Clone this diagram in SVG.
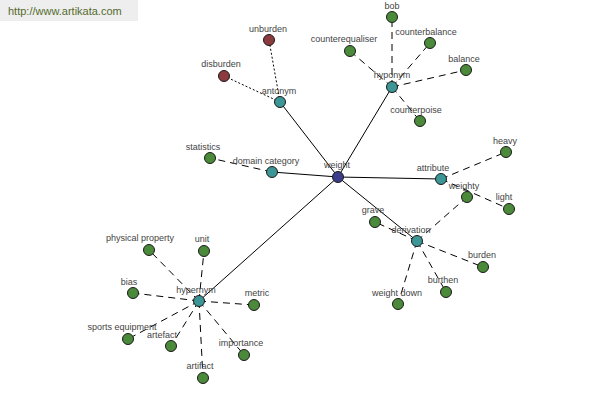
<svg xmlns="http://www.w3.org/2000/svg" width="600" height="400" viewBox="0 0 600 400">
<style>
text{font-family:"Liberation Sans",Arial,sans-serif;font-size:9px;fill:#444;text-anchor:middle}
.e{stroke:#000;stroke-width:1;fill:none}
.d{stroke-dasharray:7 5}
.o{stroke-dasharray:2 2}
circle{stroke:#1a1a1a;stroke-width:1}
.b{fill:#3c3c8c}
.t{fill:#3c9696}
.g{fill:#4a8a3a}
.r{fill:#8b3a3e}
</style>
<rect x="0" y="0" width="138" height="21" fill="#eeeeee"/>
<text x="8" y="15" style="text-anchor:start;font-size:11px;fill:#556b2f">http://www.artikata.com</text>
<g id="connectors">
<line class="e" x1="338" y1="177" x2="280" y2="102"/>
<line class="e" x1="338" y1="177" x2="392" y2="87"/>
<line class="e" x1="338" y1="177" x2="272" y2="172"/>
<line class="e" x1="338" y1="177" x2="441" y2="179"/>
<line class="e" x1="338" y1="177" x2="417" y2="241"/>
<line class="e" x1="338" y1="177" x2="199" y2="301"/>
<line class="e o" x1="280" y1="102" x2="269" y2="40"/>
<line class="e o" x1="280" y1="102" x2="224" y2="76"/>
<line class="e d" x1="272" y1="172" x2="210" y2="158"/>
<line class="e d" x1="392" y1="87" x2="392" y2="17"/>
<line class="e d" x1="392" y1="87" x2="430" y2="43"/>
<line class="e d" x1="392" y1="87" x2="350" y2="51"/>
<line class="e d" x1="392" y1="87" x2="466" y2="70"/>
<line class="e d" x1="392" y1="87" x2="420" y2="121"/>
<line class="e d" x1="441" y1="179" x2="506" y2="152"/>
<line class="e d" x1="441" y1="179" x2="509" y2="209"/>
<line class="e d" x1="417" y1="241" x2="467" y2="197"/>
<line class="e d" x1="417" y1="241" x2="375" y2="222"/>
<line class="e d" x1="417" y1="241" x2="483" y2="267"/>
<line class="e d" x1="417" y1="241" x2="446" y2="292"/>
<line class="e d" x1="417" y1="241" x2="398" y2="304"/>
<line class="e d" x1="199" y1="301" x2="149" y2="250"/>
<line class="e d" x1="199" y1="301" x2="204" y2="251"/>
<line class="e d" x1="199" y1="301" x2="133" y2="293"/>
<line class="e d" x1="199" y1="301" x2="254" y2="305"/>
<line class="e d" x1="199" y1="301" x2="128" y2="339"/>
<line class="e d" x1="199" y1="301" x2="171" y2="346"/>
<line class="e d" x1="199" y1="301" x2="244" y2="355"/>
<line class="e d" x1="199" y1="301" x2="203" y2="378"/>
</g>
<g id="n-weight"><circle class="b" cx="338" cy="177" r="5.5"/><text x="337" y="168">weight</text></g>
<g id="n-antonym"><circle class="t" cx="280" cy="102" r="5.5"/><text x="279" y="94">antonym</text></g>
<g id="n-unburden"><circle class="r" cx="269" cy="40" r="5.5"/><text x="268" y="32">unburden</text></g>
<g id="n-disburden"><circle class="r" cx="224" cy="76" r="5.5"/><text x="221" y="67">disburden</text></g>
<g id="n-domain"><circle class="t" cx="272" cy="172" r="5.5"/><text x="266" y="164">domain category</text></g>
<g id="n-statistics"><circle class="g" cx="210" cy="158" r="5.5"/><text x="203" y="150">statistics</text></g>
<g id="n-hyponym"><circle class="t" cx="392" cy="87" r="5.5"/><text x="392" y="78">hyponym</text></g>
<g id="n-bob"><circle class="g" cx="392" cy="17" r="5.5"/><text x="392" y="9">bob</text></g>
<g id="n-counterbalance"><circle class="g" cx="430" cy="43" r="5.5"/><text x="426" y="35">counterbalance</text></g>
<g id="n-counterequaliser"><circle class="g" cx="350" cy="51" r="5.5"/><text x="344" y="42">counterequaliser</text></g>
<g id="n-balance"><circle class="g" cx="466" cy="70" r="5.5"/><text x="464" y="62">balance</text></g>
<g id="n-counterpoise"><circle class="g" cx="420" cy="121" r="5.5"/><text x="416" y="113">counterpoise</text></g>
<g id="n-attribute"><circle class="t" cx="441" cy="179" r="5.5"/><text x="433" y="171">attribute</text></g>
<g id="n-heavy"><circle class="g" cx="506" cy="152" r="5.5"/><text x="505" y="144">heavy</text></g>
<g id="n-weighty"><circle class="g" cx="467" cy="197" r="5.5"/><text x="464" y="189">weighty</text></g>
<g id="n-light"><circle class="g" cx="509" cy="209" r="5.5"/><text x="504" y="200">light</text></g>
<g id="n-derivation"><circle class="t" cx="417" cy="241" r="5.5"/><text x="411" y="233">derivation</text></g>
<g id="n-grave"><circle class="g" cx="375" cy="222" r="5.5"/><text x="373" y="213">grave</text></g>
<g id="n-burden"><circle class="g" cx="483" cy="267" r="5.5"/><text x="482" y="258">burden</text></g>
<g id="n-burthen"><circle class="g" cx="446" cy="292" r="5.5"/><text x="443" y="283">burthen</text></g>
<g id="n-weightdown"><circle class="g" cx="398" cy="304" r="5.5"/><text x="397" y="296">weight down</text></g>
<g id="n-hypernym"><circle class="t" cx="199" cy="301" r="5.5"/><text x="196" y="293">hypernym</text></g>
<g id="n-physical"><circle class="g" cx="149" cy="250" r="5.5"/><text x="140" y="241">physical property</text></g>
<g id="n-unit"><circle class="g" cx="204" cy="251" r="5.5"/><text x="202" y="242">unit</text></g>
<g id="n-bias"><circle class="g" cx="133" cy="293" r="5.5"/><text x="129" y="285">bias</text></g>
<g id="n-metric"><circle class="g" cx="254" cy="305" r="5.5"/><text x="257" y="296">metric</text></g>
<g id="n-sports"><circle class="g" cx="128" cy="339" r="5.5"/><text x="122" y="330">sports equipment</text></g>
<g id="n-artefact"><circle class="g" cx="171" cy="346" r="5.5"/><text x="162" y="338">artefact</text></g>
<g id="n-importance"><circle class="g" cx="244" cy="355" r="5.5"/><text x="241" y="346">importance</text></g>
<g id="n-artifact"><circle class="g" cx="203" cy="378" r="5.5"/><text x="200" y="369">artifact</text></g>
</svg>
